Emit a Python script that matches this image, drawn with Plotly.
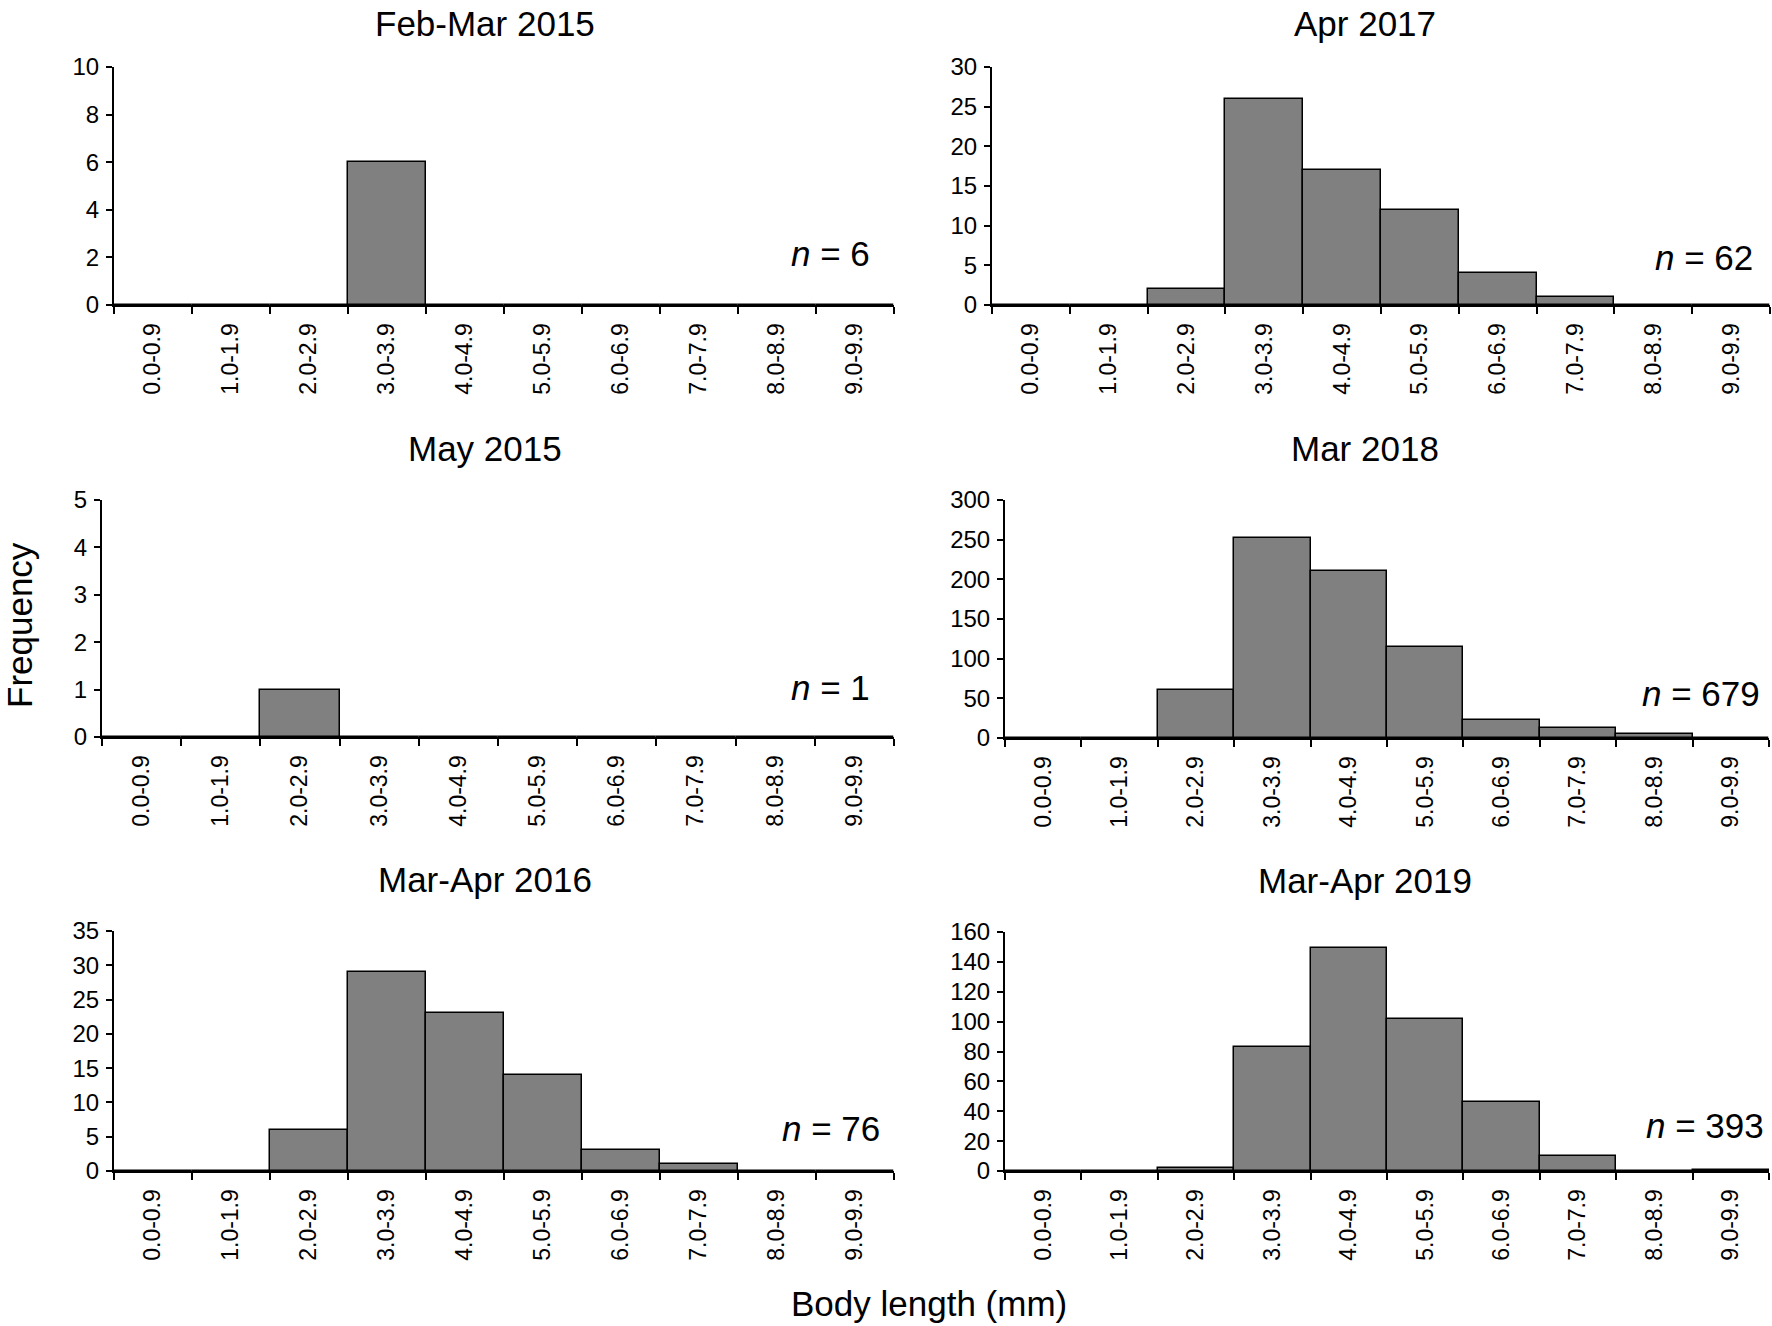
import plotly.graph_objects as go

# size classes (mm)
bins = ["0.0-0.9", "1.0-1.9", "2.0-2.9", "3.0-3.9", "4.0-4.9",
        "5.0-5.9", "6.0-6.9", "7.0-7.9", "8.0-8.9", "9.0-9.9"]

# counts per size class
feb_mar_2015 = [0, 0, 0, 6, 0, 0, 0, 0, 0, 0]
apr_2017 = [0, 0, 2, 26, 17, 12, 4, 1, 0, 0]
may_2015 = [0, 0, 1, 0, 0, 0, 0, 0, 0, 0]
mar_2018 = [0, 0, 61, 252, 211, 115, 23, 12, 5, 0]
mar_apr_2016 = [0, 0, 6, 29, 23, 14, 3, 1, 0, 0]
mar_apr_2019 = [0, 0, 2, 83, 149, 102, 46, 10, 0, 1]

titles = ["Feb-Mar 2015", "Apr 2017", "May 2015", "Mar 2018", "Mar-Apr 2016", "Mar-Apr 2019"]
n_values = [6, 62, 1, 679, 76, 393]
y_max = [10, 30, 5, 300, 35, 160]
y_step = [2, 5, 1, 50, 5, 20]

series = [feb_mar_2015, apr_2017, may_2015, mar_2018, mar_apr_2016, mar_apr_2019]

W, H = 1772, 1326
FONT = "Arial, Liberation Sans, sans-serif"

# plot-area boxes in pixels: (left, right, top, bottom)
boxes = [(114, 894, 67, 305), (992, 1770, 67, 305),
         (102, 894, 500, 737), (1005, 1769, 500, 738),
         (114, 894, 931, 1171), (1005, 1769, 932, 1171)]
# n-label right edge and baseline (px)
n_pos = [(872, 267), (1755, 271), (872, 700), (1762, 706), (882, 1141), (1766, 1138)]
title_x = [485, 1365, 485, 1365, 485, 1365]


def px(x):
    return x / W


def py(y):
    return 1 - y / H


fig = go.Figure()
annotations = []

for i, vals in enumerate(series):
    k = "" if i == 0 else str(i + 1)
    l, r, t, b = boxes[i]
    fig.add_trace(go.Bar(
        x=bins, y=vals, xaxis="x" + k, yaxis="y" + k,
        marker=dict(color="#808080", line=dict(color="black", width=1.5)),
        width=1.0, showlegend=False,
    ))
    fig.update_layout(**{
        "xaxis" + k: dict(
            domain=[px(l), px(r)], anchor="y" + k, type="category",
            range=[-0.5, 9.5], showline=True, linecolor="black", linewidth=2,
            ticks="outside", tickson="boundaries", ticklen=7, tickwidth=2,
            tickcolor="black", tickangle=-90, showgrid=False, automargin=False,
            tickfont=dict(family=FONT, size=23, color="black"),
            ticklabelstandoff=7,
        ),
        "yaxis" + k: dict(
            domain=[py(b), py(t)], anchor="x" + k, range=[0, y_max[i]],
            dtick=y_step[i], showline=True, linecolor="black", linewidth=2,
            ticks="outside", ticklen=6, tickwidth=2, tickcolor="black",
            showgrid=False, zeroline=False, automargin=False,
            tickfont=dict(family=FONT, size=24, color="black"),
            ticklabelstandoff=2,
        ),
    })
    # top row titles sit right at the page edge, keep them inside
    title_y = max(t - 52, 23)
    annotations.append(dict(
        text=titles[i], x=px(title_x[i]), y=py(title_y), xref="paper", yref="paper",
        xanchor="center", yanchor="middle", showarrow=False,
        font=dict(family=FONT, size=35, color="black"),
    ))
    nx, nb = n_pos[i]
    annotations.append(dict(
        text="<i>n</i> = %d" % n_values[i], x=px(nx), y=py(nb - 13),
        xref="paper", yref="paper", xanchor="right", yanchor="middle",
        showarrow=False, font=dict(family=FONT, size=35, color="black"),
    ))

annotations.append(dict(
    text="Frequency", x=px(19), y=py(625), xref="paper", yref="paper",
    xanchor="center", yanchor="middle", textangle=-90, showarrow=False,
    font=dict(family=FONT, size=35, color="black"),
))
annotations.append(dict(
    text="Body length (mm)", x=px(929), y=py(1303), xref="paper", yref="paper",
    xanchor="center", yanchor="middle", showarrow=False,
    font=dict(family=FONT, size=35, color="black"),
))

fig.update_layout(
    width=W, height=H, margin=dict(l=0, r=0, t=0, b=0, autoexpand=False),
    paper_bgcolor="white", plot_bgcolor="white",
    bargap=0, annotations=annotations,
    font=dict(family=FONT, color="black"),
)

# drop the default page margin so the figure fills the window exactly
fig.write_html("out.html", config={"displayModeBar": False},
               post_script="document.body.style.margin='0';")
